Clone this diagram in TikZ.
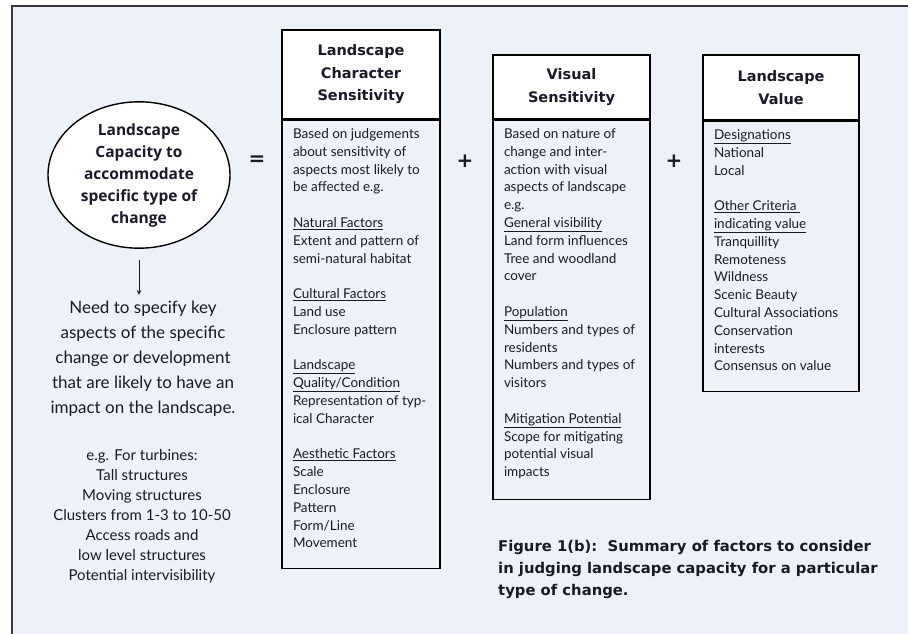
\documentclass[tikz,border=0pt]{standalone}
\usepackage{fontspec}
\setmainfont{Lato}
\newfontfamily\headfont{Open Sans}
\newfontfamily\titlefont{DejaVu Sans}
\usetikzlibrary{positioning}
\usetikzlibrary{shapes.geometric}

\definecolor{paleblue}{RGB}{237,242,249}
\definecolor{framegray}{RGB}{55,55,60}
\definecolor{inkblue}{RGB}{25,25,40}

\begin{document}
\begin{tikzpicture}[x=1pt,y=-1pt,color=inkblue,
  head/.style={draw=black,line width=1.6pt,fill=white,align=center,inner sep=0pt,
    font=\titlefont\fontsize{14.5}{22.5}\selectfont\bfseries},
  body/.style={draw=black,line width=1.6pt,fill=paleblue,anchor=north,
    inner xsep=11pt,inner ysep=8pt,font=\fontsize{13.5}{17.8}\selectfont},
  sign/.style={font=\titlefont\fontsize{20}{20}\selectfont\bfseries}]

  \useasboundingbox (0,0) rectangle (908,633);
  \clip (0,0) rectangle (908,633);
  \draw[line width=2pt,draw=framegray,fill=paleblue] (12,6) rectangle (1200,800);

  % left hand side
  \node at (139,175) [ellipse,draw=black,line width=1.4pt,fill=white,inner sep=0pt,
    minimum width=182pt,minimum height=144pt,align=center,
    font=\headfont\fontsize{15.5}{22}\selectfont\bfseries] (cap) {
    Landscape\\Capacity to\\accommodate\\specific type of\\change
  };

  \node at (143,359) [align=center,font=\fontsize{17}{25}\selectfont] (need) {
    Need to specify key\\aspects of the specific\\change or development\\
    that are likely to have an\\impact on the landscape.
  };

  \node at (142,516) [align=center,font=\fontsize{15}{20}\selectfont] (turbines) {
    e.g. For turbines:\\Tall structures\\Moving structures\\Clusters from 1-3 to 10-50\\
    Access roads and\\low level structures\\Potential intervisibility
  };

  \draw[-stealth,line width=1pt,shorten <=11pt,shorten >=3pt] (cap.south) -- (cap.south |- need.north);

  \node at (257,161) [sign] (eq) {=};
  \node at (465,161) [sign] (plus1) {+};
  \node at (674,161) [sign] (plus2) {+};

  % landscape character sensitivity
  \node at (361,74.5) [head,minimum width=158pt,minimum height=89pt] (lcshead) {
    Landscape\\Character\\Sensitivity
  };
  \node at (lcshead.south) [body] (lcsbody) {\parbox[t][432pt][t]{136pt}{\raggedright
    Based on judgements\\
    about sensitivity of\\
    aspects most likely to\\
    be affected e.g.\\[17.8pt]
    \underline{Natural Factors}\\
    Extent and pattern of\\
    semi-natural habitat\\[17.8pt]
    \underline{Cultural Factors}\\
    Land use\\
    Enclosure pattern\\[17.8pt]
    \underline{Landscape}\\
    \underline{Quality/Condition}\\
    Representation of typ-\\
    ical Character\\[17.8pt]
    \underline{Aesthetic Factors}\\
    Scale\\
    Enclosure\\
    Pattern\\
    Form/Line\\
    Movement}};

  % visual sensitivity
  \node at (571.5,87) [head,minimum width=157pt,minimum height=64pt] (vshead) {
    Visual\\Sensitivity
  };
  \node at (vshead.south) [body] (vsbody) {\parbox[t][363pt][t]{135pt}{\raggedright
    Based on nature of\\
    change and inter-\\
    action with visual\\
    aspects of landscape\\
    e.g.\\
    \underline{General visibility}\\
    Land form influences\\
    Tree and woodland\\
    cover\\[17.8pt]
    \underline{Population}\\
    Numbers and types of\\
    residents\\
    Numbers and types of\\
    visitors\\[17.8pt]
    \underline{Mitigation Potential}\\
    Scope for mitigating\\
    potential visual\\
    impacts}};

  % landscape value
  \node at (781,87.5) [head,minimum width=156pt,minimum height=65pt] (lvhead) {
    Landscape\\Value
  };
  \node at (lvhead.south) [body] (lvbody) {\parbox[t][254pt][t]{134pt}{\raggedright
    \underline{Designations}\\
    National\\
    Local\\[17.8pt]
    \underline{Other Criteria }\\
    \underline{indicating value}\\
    Tranquillity\\
    Remoteness\\
    Wildness\\
    Scenic Beauty\\
    Cultural Associations\\
    Conservation\\
    interests\\
    Consensus on value}};

  \node at (498,540) [anchor=north west,align=left,inner sep=0pt,
    font=\titlefont\fontsize{14.8}{22}\selectfont\bfseries] (caption) {
    Figure 1(b):\ \ Summary of factors to consider\\
    in judging landscape capacity for a particular\\
    type of change.
  };
\end{tikzpicture}
\end{document}
